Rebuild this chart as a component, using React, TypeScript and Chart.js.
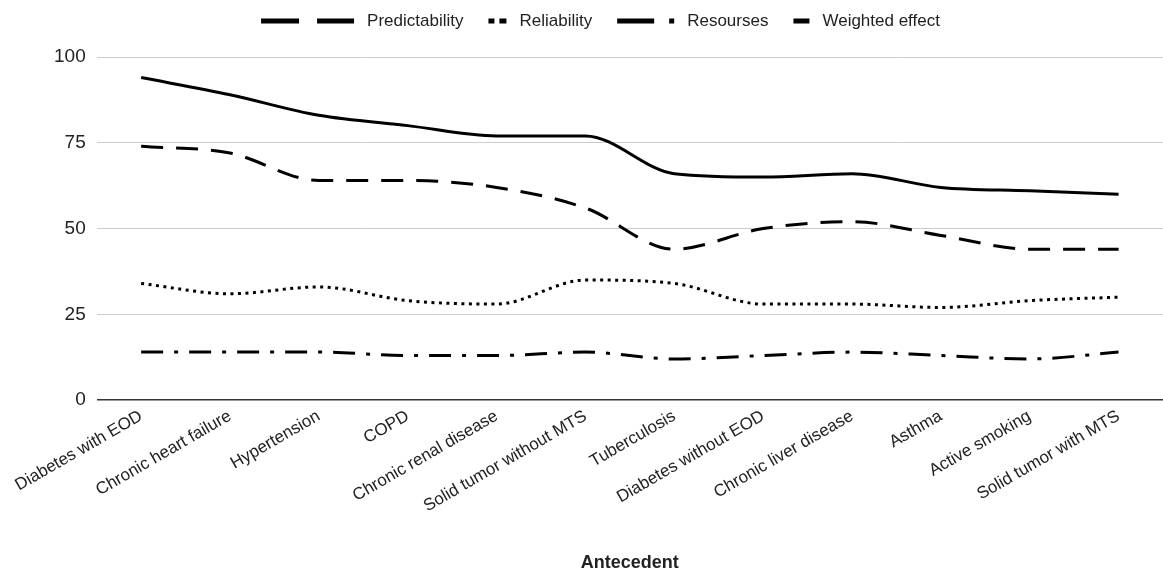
import React, { useEffect, useRef } from "react";
import { Chart, registerables } from "chart.js";

Chart.register(...registerables);

const categories = [
  "Diabetes with EOD",
  "Chronic heart failure",
  "Hypertension",
  "COPD",
  "Chronic renal disease",
  "Solid tumor without MTS",
  "Tuberculosis",
  "Diabetes without EOD",
  "Chronic liver disease",
  "Asthma",
  "Active smoking",
  "Solid tumor with MTS",
];

const predictability = [74, 72, 64, 64, 62, 56, 44, 50, 52, 48, 44, 44];
const reliability = [34, 31, 33, 29, 28, 35, 34, 28, 28, 27, 29, 30];
const resourses = [14, 14, 14, 13, 13, 14, 12, 13, 14, 13, 12, 14];
const weightedEffect = [94, 89, 83, 80, 77, 77, 66, 65, 66, 62, 61, 60];

const seriesNames = ["Predictability", "Reliability", "Resourses", "Weighted effect"];
const yMin = 0;
const yMax = 100;
const yStep = 25;
const xAxisTitle = "Antecedent";

const FONT = '"Liberation Sans", Arial, sans-serif';

// style: dash patterns for lines and legend swatches
const lineDashes = [[22, 13], [3, 4.5], [22, 11, 4, 11], []];
const legendSwatches = [
  [[0, 38], [56, 37]],
  [[0, 6], [11, 7]],
  [[0, 37], [52, 5]],
  [[0, 16]],
];
const LEGEND_CENTER_X = 600.5;
const LEGEND_Y = 21;

const legendPlugin = {
  id: "customLegend",
  afterDraw(chart: any) {
    const ctx = chart.ctx;
    ctx.save();
    ctx.font = `17px ${FONT}`;
    const items = chart.data.datasets.map((ds: any, i: number) => {
      const sw = legendSwatches[i];
      const swW = Math.max(...sw.map((s) => s[0] + s[1]));
      const tw = ctx.measureText(ds.label).width;
      return { sw, swW, tw, label: ds.label };
    });
    const gapSwText = 13;
    const gapItem = 25;
    const total = items.reduce(
      (a: number, it: any, i: number) =>
        a + it.swW + gapSwText + it.tw + (i < items.length - 1 ? gapItem : 0),
      0
    );
    let x = LEGEND_CENTER_X - total / 2;
    ctx.textBaseline = "middle";
    ctx.textAlign = "left";
    items.forEach((it: any) => {
      ctx.fillStyle = "#000";
      it.sw.forEach(([s, l]: number[]) => ctx.fillRect(x + s, LEGEND_Y - 2.5, l, 5));
      x += it.swW + gapSwText;
      ctx.fillStyle = "#222";
      ctx.fillText(it.label, x, LEGEND_Y);
      x += it.tw + gapItem;
    });
    ctx.restore();
  },
};

export default function App() {
  const canvasRef = useRef<HTMLCanvasElement | null>(null);

  useEffect(() => {
    document.body.style.margin = "0";
    const canvas = canvasRef.current;
    if (!canvas) return;
    const seriesValues = [predictability, reliability, resourses, weightedEffect];
    const chart = new Chart(canvas, {
      type: "line",
      data: {
        labels: categories,
        datasets: seriesValues.map((vals, i) => ({
          label: seriesNames[i],
          data: vals,
          borderColor: "#000",
          backgroundColor: "#000",
          borderWidth: 3,
          borderDash: lineDashes[i],
          pointRadius: 0,
          pointHoverRadius: 0,
          fill: false,
          cubicInterpolationMode: "monotone" as const,
        })),
      },
      options: {
        responsive: false,
        animation: false,
        layout: { padding: { top: 57, left: 43, right: 0, bottom: 0 } },
        plugins: {
          legend: { display: false },
          tooltip: { enabled: false },
        },
        scales: {
          x: {
            offset: true,
            grid: { display: false, drawTicks: false },
            border: { display: false },
            ticks: {
              autoSkip: false,
              minRotation: 30,
              maxRotation: 30,
              padding: 6,
              color: "#222",
              font: { family: FONT, size: 17 },
            },
            title: {
              display: true,
              text: xAxisTitle,
              color: "#222",
              font: { family: FONT, size: 18, weight: "bold" },
              padding: { top: 30, bottom: 0 },
            },
          },
          y: {
            min: yMin,
            max: yMax,
            border: { display: false },
            grid: {
              drawTicks: false,
              color: (c: any) => (c.tick && c.tick.value === 0 ? "#333" : "#ccc"),
              lineWidth: (c: any) => (c.tick && c.tick.value === 0 ? 1.5 : 1),
            },
            ticks: {
              stepSize: yStep,
              padding: 11,
              color: "#222",
              font: { family: FONT, size: 19 },
            },
          },
        },
      },
      plugins: [legendPlugin],
    });
    return () => chart.destroy();
  }, []);

  return (
    <div style={{ width: 1163, height: 574, background: "#fff" }}>
      <canvas ref={canvasRef} width={1163} height={574} style={{ display: "block" }} />
    </div>
  );
}
